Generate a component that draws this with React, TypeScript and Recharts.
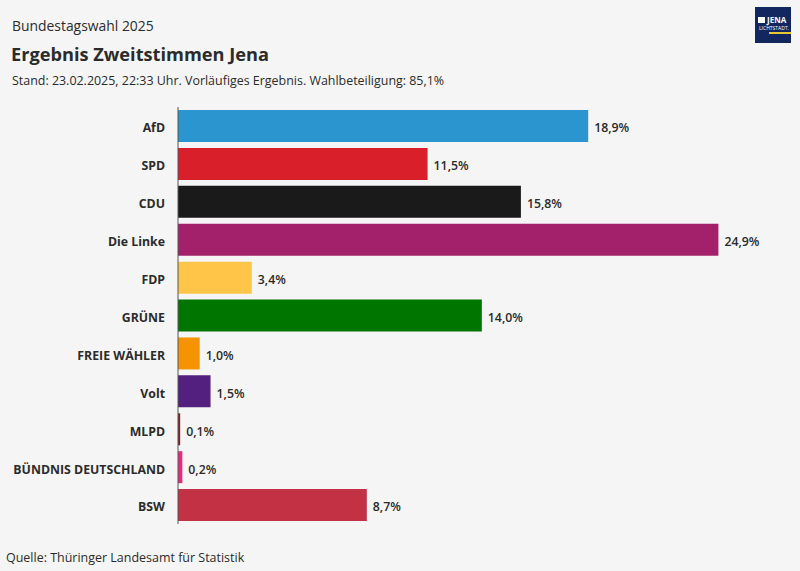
import * as React from "react";
import { Bar, BarChart, Cell, LabelList, XAxis, YAxis } from "recharts";

const parties = [
  "AfD",
  "SPD",
  "CDU",
  "Die Linke",
  "FDP",
  "GRÜNE",
  "FREIE WÄHLER",
  "Volt",
  "MLPD",
  "BÜNDNIS DEUTSCHLAND",
  "BSW",
];
const shares = [18.9, 11.5, 15.8, 24.9, 3.4, 14.0, 1.0, 1.5, 0.1, 0.2, 8.7];
const colors = [
  "#2a95cf",
  "#d9202a",
  "#1a1a1a",
  "#a3216b",
  "#ffc548",
  "#007500",
  "#f59400",
  "#53207f",
  "#8f1a1f",
  "#e9297f",
  "#c23144",
];

const rows = parties.map((party, i) => ({ party, share: shares[i] }));
const font = "'Open Sans', sans-serif";
const ink = "#2b2b2b";

const formatShare = (v: number) => `${v.toFixed(1).replace(".", ",")}%`;

// own tick so the long party name stays on one line
function PartyTick({ x, y, payload }: any) {
  return (
    <text
      x={x - 7}
      y={y + 2}
      dy="0.355em"
      textAnchor="end"
      fill={ink}
      fontSize={12.3}
      fontWeight={700}
      fontFamily={font}
    >
      {payload.value}
    </text>
  );
}

function ShareLabel({ x, y, width, height, value }: any) {
  return (
    <text
      x={x + width + 6}
      y={y + height / 2 + 2}
      dy="0.355em"
      fill={ink}
      fontSize={12.3}
      fontWeight={600}
      fontFamily={font}
    >
      {formatShare(value)}
    </text>
  );
}

function Logo() {
  return (
    <div
      style={{
        position: "absolute",
        left: 755,
        top: 7,
        width: 36,
        height: 36,
        background: "#12275f",
        color: "#fff",
        overflow: "hidden",
      }}
    >
      <div style={{ position: "absolute", left: 3, top: 10, width: 7, height: 6, background: "#fff" }} />
      <div style={{ position: "absolute", left: 12, top: 8, fontSize: 8, lineHeight: "9px", fontWeight: 700 }}>JENA</div>
      <div style={{ position: "absolute", left: 4, top: 18, fontSize: 5, lineHeight: "7px", whiteSpace: "nowrap" }}>
        LICHTSTADT.
      </div>
      <div style={{ position: "absolute", left: 14, top: 25, width: 22, height: 2, background: "#e6c832" }} />
    </div>
  );
}

export default function App() {
  return (
    <div
      style={{
        position: "absolute",
        left: 0,
        top: 0,
        width: 800,
        height: 571,
        background: "#f5f5f5",
        fontFamily: font,
        color: ink,
        overflow: "hidden",
      }}
    >
      <div style={{ position: "absolute", left: 12, top: 16, fontSize: 13.9, lineHeight: "20px" }}>Bundestagswahl 2025</div>
      <div style={{ position: "absolute", left: 11, top: 40, fontSize: 18.2, lineHeight: "28px", fontWeight: 700 }}>
        Ergebnis Zweitstimmen Jena
      </div>
      <div style={{ position: "absolute", left: 12, top: 71, fontSize: 12.45, lineHeight: "20px" }}>
        Stand: 23.02.2025, 22:33 Uhr. Vorläufiges Ergebnis. Wahlbeteiligung: 85,1%
      </div>
      <Logo />
      <div style={{ position: "absolute", left: 0, top: 0 }}>
        <BarChart
          width={800}
          height={571}
          data={rows}
          layout="vertical"
          barSize={32}
          margin={{ top: 107, right: 0, bottom: 47, left: 0 }}
        >
          <XAxis type="number" hide domain={[0, 28.66]} />
          <YAxis
            type="category"
            dataKey="party"
            width={178}
            interval={0}
            tickLine={false}
            tickMargin={0}
            axisLine={{ stroke: "#555", strokeWidth: 1 }}
            tick={<PartyTick />}
          />
          <Bar dataKey="share" isAnimationActive={false}>
            {rows.map((row, i) => (
              <Cell key={row.party} fill={colors[i]} />
            ))}
            <LabelList dataKey="share" content={<ShareLabel />} />
          </Bar>
        </BarChart>
      </div>
      <div style={{ position: "absolute", left: 6, top: 548, fontSize: 12.47, lineHeight: "20px" }}>
        Quelle: Thüringer Landesamt für Statistik
      </div>
    </div>
  );
}
